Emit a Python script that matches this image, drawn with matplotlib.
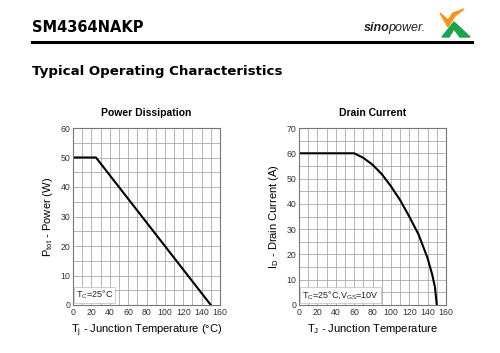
import numpy as np
import matplotlib.pyplot as plt
from matplotlib.patches import Polygon

# Power dissipation data
pd_temp = [0, 25, 150]
pd_power = [50, 50, 0]

# Drain current data
id_temp = [0, 60, 70, 80, 90, 100, 110, 120, 130, 140, 145, 148, 150]
id_curr = [60, 60, 58.2, 55.5, 51.8, 47, 41.5, 35, 28, 18.5, 12, 7, 0]

x_ticks = [0, 20, 40, 60, 80, 100, 120, 140, 160]

plt.rcParams['font.family'] = ['Liberation Sans', 'DejaVu Sans']

fig = plt.figure(figsize=(5, 3.53), dpi=100)

# Header
fig.text(32/500, 1 - 28/353, "SM4364NAKP", fontsize=10.5, fontweight='bold',
         family='DejaVu Sans', va='center', ha='left')
fig.add_artist(plt.Line2D([32/500, 472/500], [1 - 42/353, 1 - 42/353],
                          color='black', lw=2.2, transform=fig.transFigure))
fig.text(32/500, 1 - 71/353, "Typical Operating Characteristics", fontsize=9.6,
         fontweight='bold', family='DejaVu Sans', va='center', ha='left')

# logo
fig.text(390/500, 1 - 28/353, "sino", fontsize=9, style='italic', fontweight='bold',
         va='center', ha='right', color='#222222')
fig.text(388/500, 1 - 28/353, "power.", fontsize=9, style='italic',
         va='center', ha='left', color='#222222')
lx, ly = 440, 9
orange = Polygon([[(lx + 0)/500, 1 - (ly + 4)/353], [(lx + 8)/500, 1 - (ly + 18)/353],
                  [(lx + 15)/500, 1 - (ly + 7)/353], [(lx + 24)/500, 1 - (ly + 0)/353],
                  [(lx + 13)/500, 1 - (ly + 4)/353], [(lx + 8)/500, 1 - (ly + 11)/353]],
                 closed=True, color='#f7941d', transform=fig.transFigure)
green = Polygon([[(lx + 2)/500, 1 - (ly + 28)/353], [(lx + 14)/500, 1 - (ly + 13)/353],
                 [(lx + 30)/500, 1 - (ly + 28)/353], [(lx + 20)/500, 1 - (ly + 28)/353],
                 [(lx + 14)/500, 1 - (ly + 20)/353], [(lx + 9)/500, 1 - (ly + 28)/353]],
                closed=True, color='#1aa34a', transform=fig.transFigure)
fig.add_artist(orange)
fig.add_artist(green)


def style_ax(ax, ymax):
    ax.set_xlim(0, 160)
    ax.set_ylim(0, ymax)
    ax.set_xticks(x_ticks)
    ax.set_yticks(np.arange(0, ymax + 1, 10))
    ax.set_xticks(np.arange(0, 161, 10), minor=True)
    ax.set_yticks(np.arange(0, ymax + 1, 5), minor=True)
    ax.grid(which='both', color='#aaaaaa', lw=0.6)
    ax.tick_params(which='both', length=0, labelsize=6.3, labelcolor='#333333', pad=2)
    for s in ax.spines.values():
        s.set_color('#777777')
        s.set_linewidth(0.8)
    ax.set_axisbelow(True)


ax1 = fig.add_axes([73/500, 48/353, 147/500, 177/353])
style_ax(ax1, 60)
ax1.plot(pd_temp, pd_power, color='black', lw=1.5)
ax1.set_title("Power Dissipation", fontsize=7.5, fontweight='bold', pad=9)
ax1.set_xlabel("T$_\\mathregular{j}$ - Junction Temperature (°C)", fontsize=8, labelpad=4)
ax1.set_ylabel("P$_\\mathregular{tot}$ - Power (W)", fontsize=8, labelpad=4)
ax1.text(3, 2.5, "T$_\\mathregular{C}$=25°C", fontsize=6.5, color='#222222',
         bbox=dict(facecolor='white', edgecolor='#bbbbbb', lw=0.5, pad=1.5))

ax2 = fig.add_axes([299/500, 48/353, 147/500, 177/353])
style_ax(ax2, 70)
ax2.plot(id_temp, id_curr, color='black', lw=1.5)
ax2.set_title("Drain Current", fontsize=7.5, fontweight='bold', pad=9)
ax2.set_xlabel("T$_\\mathregular{J}$ - Junction Temperature", fontsize=8, labelpad=4)
ax2.set_ylabel("I$_\\mathregular{D}$ - Drain Current (A)", fontsize=8, labelpad=4)
ax2.text(3, 3, "T$_\\mathregular{C}$=25°C,V$_\\mathregular{GS}$=10V", fontsize=6.5,
         color='#222222',
         bbox=dict(facecolor='white', edgecolor='#bbbbbb', lw=0.5, pad=1.5))

fig.savefig("out.png", dpi=100)
